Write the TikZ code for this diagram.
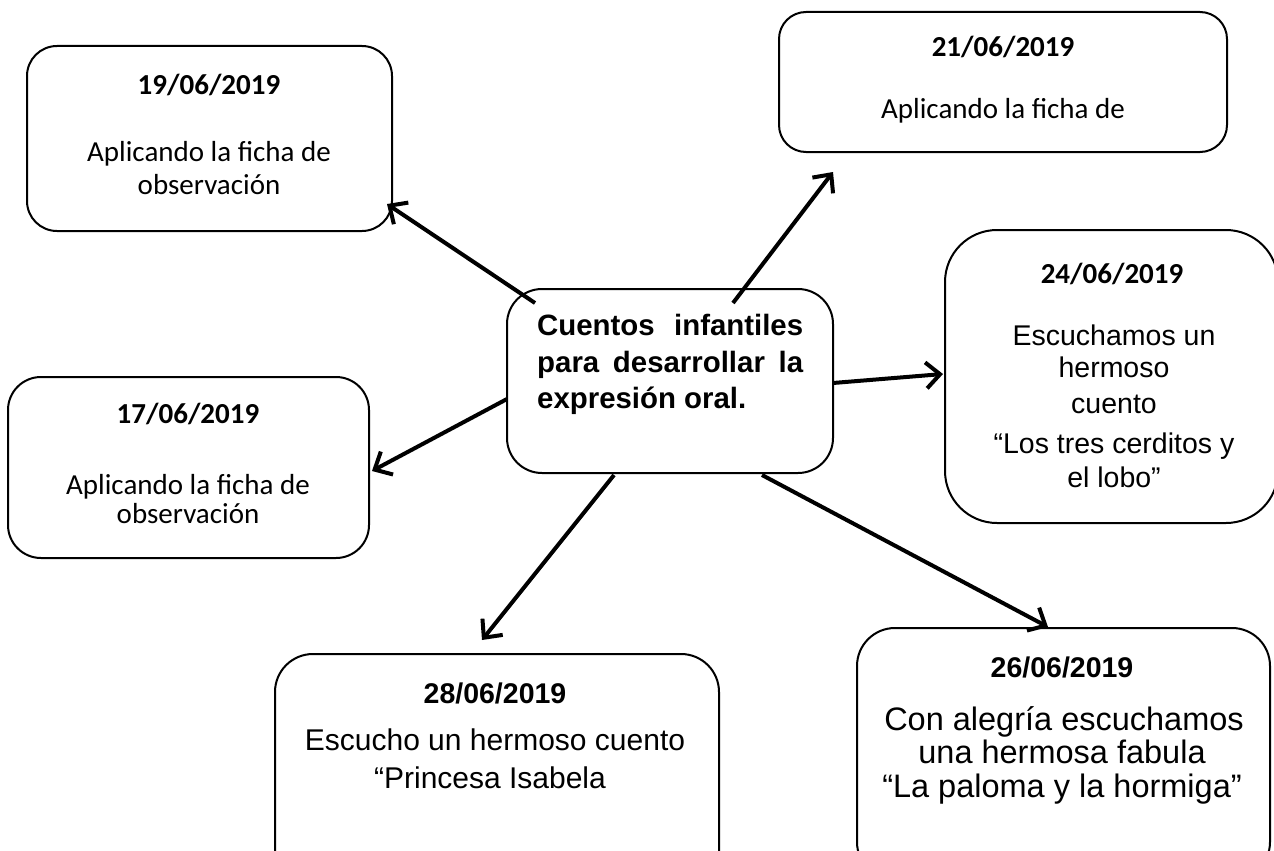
\documentclass[tikz,border=0pt]{standalone}
\usepackage{fontspec}
\setmainfont{Liberation Sans}
\newfontfamily\calfont{Carlito}
\newfontfamily\arifont{Liberation Sans}
\usetikzlibrary{arrows.meta}
\tikzset{
  box/.style={draw=black, line width=2pt, inner sep=0pt, fill=none},
  datetext/.style={anchor=base, inner sep=0pt, font=\calfont\bfseries\fontsize{29}{35}\selectfont},
  caltext/.style={anchor=base, inner sep=0pt, font=\calfont\fontsize{29}{35}\selectfont},
  aritext/.style={anchor=base, inner sep=0pt, font=\arifont\fontsize{28.5}{34}\selectfont},
  aritextb/.style={anchor=base, inner sep=0pt, font=\arifont\fontsize{30}{36}\selectfont},
  aritextc/.style={anchor=base, inner sep=0pt, font=\arifont\fontsize{32.5}{38}\selectfont},
  ardate/.style={anchor=base, inner sep=0pt, font=\arifont\bfseries\fontsize{28.5}{34}\selectfont},
  titletext/.style={anchor=base west, inner sep=0pt, font=\arifont\bfseries\fontsize{29.4}{35}\selectfont},
  link/.style={line width=4pt, -{Straight Barb[length=14pt,width=26pt]}}
}
\begin{document}
\begin{tikzpicture}[x=1pt,y=-1pt]
\useasboundingbox (0,0) rectangle (1274,851);
\clip (0,0) rectangle (1274,851);
\fill[white] (0,0) rectangle (1274,851);

% boxes
\node[box, minimum width=365pt, minimum height=185pt, rounded corners=30pt] (b19) at (209.5,138.5) {};
\node[box, minimum width=448pt, minimum height=140pt, rounded corners=27pt] (b21) at (1003,82) {};
\node[box, minimum width=333pt, minimum height=293pt, rounded corners=52pt] (b24) at (1111.5,376.5) {};
\node[box, minimum width=326pt, minimum height=184pt, rounded corners=35pt] (c) at (670,381) {};
\node[box, minimum width=361pt, minimum height=181pt, rounded corners=33pt] (b17) at (188.5,467.5) {};
\node[box, minimum width=444pt, minimum height=250pt, rounded corners=38pt] (b28) at (497,779) {};
\node[box, minimum width=413pt, minimum height=252pt, rounded corners=38pt] (b26) at (1063.5,754) {};

% texts 19/06
\node[datetext] (d19) at (209,95) {19/06/2019};
\node[caltext] (l19a) at (209,161) {Aplicando la ficha de};
\node[caltext] (l19b) at (209,194) {observación};
% 21/06
\node[datetext] (d21) at (1003,57) {21/06/2019};
\node[caltext] (l21a) at (1003,118) {Aplicando la ficha de};
% 17/06
\node[datetext] (d17) at (188,423) {17/06/2019};
\node[caltext] (l17a) at (188,494) {Aplicando la ficha de};
\node[caltext] (l17b) at (188,523) {observación};
% 24/06
\node[datetext] (d24) at (1112,283) {24/06/2019};
\node[aritext] (l24a) at (1114,345) {Escuchamos un};
\node[aritext] (l24b) at (1114,377) {hermoso};
\node[aritext] (l24c) at (1114,413) {cuento};
\node[aritext] (l24d) at (1114,453) {“Los tres cerditos y};
\node[aritext] (l24e) at (1114,487) {el lobo”};
% 28/06
\node[ardate] (d28) at (495,703) {28/06/2019};
\node[aritextb] (l28a) at (495,750) {Escucho un hermoso cuento};
\node[aritextb] (l28b) at (490,788) {“Princesa Isabela};
% 26/06
\node[ardate] (d26) at (1062,677) {26/06/2019};
\node[aritextc] (l26a) at (1064,730) {Con alegría escuchamos};
\node[aritextc] (l26b) at (1062,763) {una hermosa fabula};
\node[aritextc] (l26c) at (1062,797) {“La paloma y la hormiga”};
% center
\node[titletext] (t1) at (537,335) {\hbox to 266pt{Cuentos\hfill infantiles}};
\node[titletext] (t2) at (537,372) {\hbox to 266pt{para\hfill desarrollar\hfill la}};
\node[titletext] (t3) at (537,408) {expresión oral.};

% arrow endpoints
\coordinate (s1) at (535,303); \coordinate (e1) at (387,204);
\coordinate (s2) at (733,303); \coordinate (e2) at (833,172);
\coordinate (s3) at (833,383); \coordinate (e3) at (943,374);
\coordinate (s4) at (507,399); \coordinate (e4) at (372,471);
\coordinate (s5) at (614,475); \coordinate (e5) at (482,640);
\coordinate (s6) at (762,475); \coordinate (e6) at (1048,627);

\draw[link] (s1) -- (e1);
\draw[link] (s2) -- (e2);
\draw[link] (s3) -- (e3);
\draw[link] (s4) -- (e4);
\draw[link] (s5) -- (e5);
\draw[link] (s6) -- (e6);
\end{tikzpicture}
\end{document}
